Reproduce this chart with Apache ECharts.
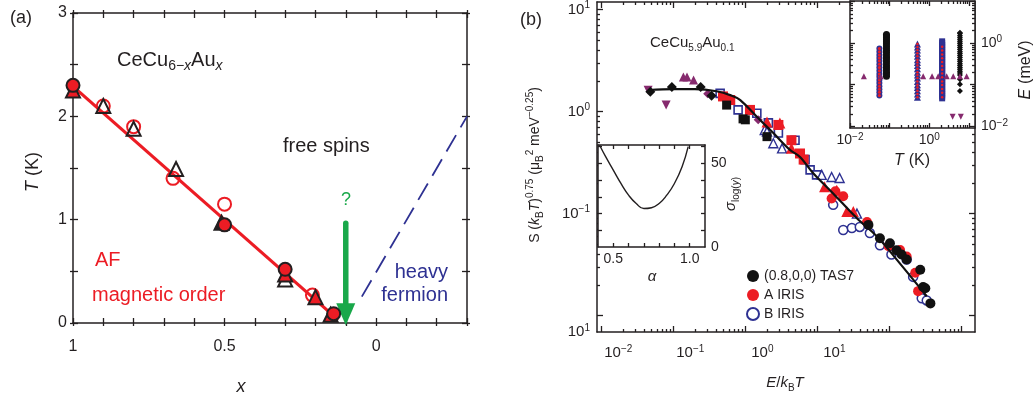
<!DOCTYPE html>
<html><head><meta charset="utf-8">
<script src="https://cdn.jsdelivr.net/npm/echarts@6/dist/echarts.min.js"></script>
<style>html,body{margin:0;padding:0;background:#fff}#c{width:1036px;height:398px}</style>
</head><body><div id="c"></div><script>
// ---------- Panel (a): T (K) vs x in CeCu6-xAux ----------
const aOpenCircles   = [[0.9,2.1],[0.8,1.9],[0.67,1.4],[0.5,1.15],[0.21,0.27]];
const aFilledCircles = [[1,2.3],[0.5,0.95],[0.3,0.52],[0.14,0.09]];
const aOpenTriangles = [[0.9,2.1],[0.8,1.88],[0.66,1.49],[0.3,0.42]];
const aRedTriangles  = [[1,2.25],[0.3,0.47],[0.2,0.25],[0.15,0.08]];
const aBlackTriangles= [[0.51,0.97]];
const aAFLine        = [[1,2.29],[0.125,0.03]];
const aArrowShaft    = [[0.1,0.965],[0.1,0.17]];
const aArrowHead     = [[0.1,0.085]];
const aHFLine        = [[0.047,0.255],[-0.3,2.0]];
const aXTicks  = [-0.3,-0.2,-0.1,0,0.1,0.2,0.3,0.4,0.5,0.6,0.7,0.8,0.9,1];
const aXLabels = [0,0.5,1];
const aYTicks  = [0,0.5,1,1.5,2,2.5,3];
const aYLabels = [0,1,2,3];

// ---------- Panel (b) main: S(kBT)^0.75 vs E/kBT ----------
const bFit = [[0.0447,1.63],[0.1,1.66],[0.2,1.66],[0.398,1.585],[0.631,1.445],[0.851,1.30],[1.445,0.891],[2.45,0.617],[4.17,0.422],[5.75,0.36],[8.71,0.251],[16.6,0.158],[35.5,0.0902],[67.6,0.0596],[141,0.0324],[331,0.0155]];
const bBlackDiamonds = [[0.0479,1.57],[0.0955,1.74],[0.24,1.74],[0.34,1.43]];
const bPurpleUp      = [[0.138,2.19],[0.155,2.19],[0.191,2.04]];
const bPurpleDown    = [[0.0447,1.62],[0.0794,1.16]];
const bPurpleDiamond = [[0.30,1.50],[1.51,0.832]];
const bBlackSquares  = [[0.55,1.16],[0.93,0.85],[1.0,0.832],[2.0,0.569]];
const bRedSquares    = [[0.49,1.41],[0.617,1.30],[1.16,1.04],[2.88,0.741],[4.37,0.525],[5.75,0.389],[6.46,0.339]];
const bBlueSquares   = [[0.447,1.51],[0.617,1.30],[0.794,1.04],[1.16,1.04],[1.445,0.964],[2.09,0.776],[2.88,0.617],[4.90,0.525],[6.76,0.339],[7.94,0.269],[9.77,0.240]];
const bBlueTriangles = [[1.86,0.661],[2.0,0.637],[2.45,0.490],[3.24,0.437],[11.5,0.240],[15.8,0.229],[20.4,0.224],[35.5,0.100]];
const bRedTriangles  = [[2.0,0.794],[3.02,0.776],[4.37,0.437],[12.6,0.184],[18.6,0.170],[25.7,0.105],[31.6,0.105]];
const bBlueCircles   = [[16.6,0.122],[22.9,0.0692],[30.2,0.0724],[38.9,0.0741],[53.7,0.0646],[74.1,0.049],[107,0.0398],[174,0.0355],[214,0.024],[282,0.0148],[331,0.0141]];
const bRedCircles    = [[15.8,0.141],[17.8,0.166],[22.9,0.148],[49,0.083],[97.7,0.0479],[141,0.044],[174,0.038],[229,0.0263],[251,0.0174]];
const bBlackCircles  = [[51.3,0.0776],[74.1,0.0575],[102,0.0513],[126,0.0437],[148,0.0398],[174,0.0355],[269,0.0282],[295,0.0191],[316,0.0186],[372,0.0132]];
const bXMajor  = [0.01,0.1,1,10,100,1000];
const bXLabels = [0.01,0.1,1,10];
const bYMajor  = [0.01,0.1,1,10];
const bYLabels = [0.1,1,10];

// ---------- Inset (b) left: sigma_log(y) vs alpha ----------
const lAlpha = [0.41,0.45,0.5,0.55,0.6,0.65,0.7,0.75,0.8,0.85,0.9,0.95,0.99];
const lSigma = [61,54,46,38,31,26,23,23.5,26,31,38,48,60];
const lXTicks = [0.5,0.6,0.7,0.8,0.9,1.0];
const lXLabels = [0.5,1.0];
const lYTicks = [10,20,30,40,50,60];
const lYLabels = [0,50];

// ---------- Inset (b) right: E (meV) vs T (K) ----------
const rCol1T = 0.055, rCol1E = [0.055,0.066,0.078,0.092,0.11,0.13,0.155,0.18,0.215,0.26,0.31,0.37,0.44,0.52,0.62,0.74];
const rCol2T = 0.083, rCol2E = [0.16,0.18,0.2,0.23,0.26,0.29,0.33,0.37,0.42,0.47,0.53,0.6,0.67,0.76,0.85,0.96,1.08,1.2,1.35,1.5,1.6];
const rCol3T = 0.5,   rCol3E = [0.05,0.06,0.072,0.086,0.1,0.12,0.145,0.17,0.2,0.24,0.29,0.34,0.4,0.48,0.57,0.68,0.8,0.95];
const rCol4T = 2.1,   rCol4E = [0.047,0.052,0.058,0.064,0.071,0.079,0.088,0.098,0.11,0.12,0.135,0.15,0.165,0.185,0.205,0.23,0.255,0.28,0.31,0.35,0.39,0.43,0.48,0.53,0.59,0.66,0.73,0.81,0.9,1.0,1.1];
const rCol4Dots = [0.05,0.064,0.079,0.098,0.12,0.15,0.185,0.23,0.28,0.35,0.43,0.53,0.66,0.81];
const rCol5T = 5.9,   rCol5E = [0.071,0.102,0.135,0.17,0.19,0.21,0.235,0.26,0.29,0.32,0.36,0.4,0.45,0.5,0.56,0.62,0.7,0.78,0.87,0.97,1.08,1.2,1.35,1.5,1.7,1.78];
const rPurpleUpT = [0.0224,0.059,0.70,1.17,1.67,2.73,4.0,5.9,8.7], rPurpleUpE = 0.16;
const rPurpleDownT = [3.86,6.2], rPurpleDownE = 0.017;
const rXMajor = [0.01,0.1,1,10];
const rXLabels = [0.01,1];
const rYMajor = [0.01,0.1,1,10];
const rYLabels = [0.01,1];

// ---------- helpers ----------
const FONT = '"Liberation Sans", Arial, Helvetica, sans-serif';
const INK = '#231f20', RED = '#ec1c24', BLUE = '#2e3192', GREEN = '#19a84a', PURPLE = '#862a6e';
function minors(majors){ const m=[]; majors.forEach(v=>{ for(let k=2;k<=9;k++) m.push(+(k*v).toPrecision(6)); }); return m; }
function pair(ts, vs){ return vs.map(v=>[ts, v]); }
function pairT(ts, v){ return ts.map(t=>[t, v]); }
const supRich = {
  b:{fontSize:15, fontFamily:FONT, color:INK, lineHeight:18},
  s:{fontSize:10, fontFamily:FONT, color:INK, verticalAlign:'top', lineHeight:12}
};
const supRichSm = {
  b:{fontSize:14, fontFamily:FONT, color:INK, lineHeight:17},
  s:{fontSize:10, fontFamily:FONT, color:INK, verticalAlign:'top', lineHeight:12}
};
function powFmt(v){ const e=Math.round(Math.log10(v)); return '{b|10}{s|'+(e<0?'\u2212'+(-e):e)+'}'; }

function ax(o){
  return {
    type:o.type||'value', gridIndex:o.grid, position:o.pos, min:o.min, max:o.max, inverse:!!o.inverse,
    logBase:10, z:o.z||1, scale:true,
    axisLine:{show:o.line!==false, onZero:false, lineStyle:{color:INK, width:o.lw||1.5}},
    axisTick:{show:!!o.ticks, inside:o.inside!==false, length:o.len||5, customValues:o.ticks, lineStyle:{color:INK, width:o.tw||1.3}},
    axisLabel:o.labels ? {show:true, customValues:o.labels, formatter:o.fmt, margin:o.margin||8, color:INK,
      fontFamily:FONT, fontSize:o.fs||16, rich:o.rich, padding:o.pad||0} : {show:false},
    splitLine:{show:false}, minorTick:{show:false}, minorSplitLine:{show:false}
  };
}
const bxMin=Math.pow(10,-2.06), bxMax=Math.pow(10,3.19), byMin=Math.pow(10,-2.16), byMax=Math.pow(10,1.075);
const rxMin=0.01, rxMax=Math.pow(10,1.15), ryMin=Math.pow(10,-2.04), ryMax=Math.pow(10,1.01);
const aFmt = v => (Math.abs(v-0.5)<1e-6 ? '0.5' : String(Math.round(v)));

const xAxis = [
  ax({grid:0,pos:'bottom',min:-0.3,max:1,inverse:true,ticks:aXTicks,len:5,labels:aXLabels,fmt:aFmt,margin:16,fs:16}),
  ax({grid:0,pos:'bottom',min:-0.3,max:1,inverse:true,ticks:aXTicks,len:3,inside:false,line:false}),
  ax({grid:0,pos:'top',min:-0.3,max:1,inverse:true,ticks:aXTicks,len:5}),
  ax({grid:0,pos:'top',min:-0.3,max:1,inverse:true,ticks:aXTicks,len:3,inside:false,line:false}),
  ax({grid:1,type:'log',pos:'bottom',min:bxMin,max:bxMax,ticks:bXMajor,len:6,labels:bXLabels,fmt:powFmt,rich:supRich,margin:12,pad:[0,0,0,34]}),
  ax({grid:1,type:'log',pos:'bottom',min:bxMin,max:bxMax,ticks:minors(bXMajor),len:3,line:false}),
  ax({grid:1,type:'log',pos:'top',min:bxMin,max:bxMax,ticks:bXMajor,len:6}),
  ax({grid:1,type:'log',pos:'top',min:bxMin,max:bxMax,ticks:minors(bXMajor),len:3,line:false}),
  ax({grid:2,type:'log',pos:'bottom',min:rxMin,max:rxMax,ticks:rXMajor,len:5,labels:rXLabels,fmt:powFmt,rich:supRichSm,margin:4,z:6}),
  ax({grid:2,type:'log',pos:'bottom',min:rxMin,max:rxMax,ticks:minors(rXMajor),len:3,line:false,z:6}),
  ax({grid:2,type:'log',pos:'top',min:rxMin,max:rxMax,ticks:rXMajor,len:5,z:6}),
  ax({grid:2,type:'log',pos:'top',min:rxMin,max:rxMax,ticks:minors(rXMajor),len:3,line:false,z:6}),
  ax({grid:3,pos:'bottom',min:0.4,max:1.1,ticks:lXTicks,len:4,labels:lXLabels,fmt:v=>v.toFixed(1),margin:5,fs:14,z:6}),
  ax({grid:3,pos:'top',min:0.4,max:1.1,ticks:lXTicks,len:4,z:6})
];
const yAxis = [
  ax({grid:0,pos:'left',min:0,max:3,ticks:aYTicks,len:5,labels:aYLabels,fmt:aFmt,margin:6,fs:16}),
  ax({grid:0,pos:'left',min:0,max:3,ticks:aYTicks,len:3,inside:false,line:false}),
  ax({grid:0,pos:'right',min:0,max:3,ticks:aYTicks,len:5}),
  ax({grid:0,pos:'right',min:0,max:3,ticks:aYTicks,len:3,inside:false,line:false}),
  ax({grid:1,type:'log',pos:'left',min:byMin,max:byMax,ticks:bYMajor,len:6,labels:bYLabels.concat([byMin*1.001]),
      fmt:v=>(v<0.009?'{b|10}{s|1}':powFmt(v)),rich:supRich,margin:7}),
  ax({grid:1,type:'log',pos:'left',min:byMin,max:byMax,ticks:minors(bYMajor),len:3,line:false}),
  ax({grid:1,type:'log',pos:'right',min:byMin,max:byMax,ticks:bYMajor,len:6}),
  ax({grid:1,type:'log',pos:'right',min:byMin,max:byMax,ticks:minors(bYMajor),len:3,line:false}),
  ax({grid:2,type:'log',pos:'left',min:ryMin,max:ryMax,ticks:rYMajor,len:5,z:6}),
  ax({grid:2,type:'log',pos:'left',min:ryMin,max:ryMax,ticks:minors(rYMajor),len:3,line:false,z:6}),
  ax({grid:2,type:'log',pos:'right',min:ryMin,max:ryMax,ticks:rYMajor,len:5,labels:rYLabels,fmt:powFmt,rich:supRichSm,margin:6,z:6}),
  ax({grid:2,type:'log',pos:'right',min:ryMin,max:ryMax,ticks:minors(rYMajor),len:3,line:false,z:6}),
  ax({grid:3,pos:'left',min:0,max:61,ticks:lYTicks,len:4,z:6}),
  ax({grid:3,pos:'right',min:0,max:61,ticks:lYTicks,len:4,labels:lYLabels,fmt:v=>String(v),margin:6,fs:14,z:6})
];

function sc(name, data, gi, sym, size, color, border, bw, z){
  return {type:'scatter', name, data, xAxisIndex:gi, yAxisIndex:gi, symbol:sym, symbolSize:size, z:z||3,
    itemStyle:{color, borderColor:border||color, borderWidth:bw||0, opacity:1}, emphasis:{disabled:true}, silent:true};
}
const CLEAR='rgba(255,255,255,0)';
const series = [
  // panel (a)
  {type:'line', data:aAFLine, xAxisIndex:0, yAxisIndex:0, symbol:'none', lineStyle:{color:RED,width:3.2}, z:2, silent:true},
  {type:'line', data:aHFLine, xAxisIndex:0, yAxisIndex:0, symbol:'none', lineStyle:{color:BLUE,width:1.8,type:[19,9]}, z:2, silent:true},
  {type:'line', data:aArrowShaft, xAxisIndex:0, yAxisIndex:0, symbol:'none', lineStyle:{color:GREEN,width:5.5,cap:'round'}, z:2, silent:true},
  {...sc('', aArrowHead, 0, 'triangle', [19,22], GREEN, GREEN, 0, 2), symbolRotate:180},
  sc('', aOpenCircles, 0, 'circle', 13, CLEAR, RED, 2),
  sc('', aOpenTriangles, 0, 'triangle', 14, CLEAR, INK, 2),
  sc('', aRedTriangles, 0, 'triangle', 14, RED, INK, 2),
  sc('', aBlackTriangles, 0, 'triangle', 14, INK, INK, 2),
  sc('', aFilledCircles, 0, 'circle', 13, RED, INK, 2),
  // panel (b) main
  sc('', bBlueSquares, 4, 'rect', 8, '#fff', BLUE, 1.6),
  sc('', bBlueTriangles, 4, 'triangle', 9, '#fff', BLUE, 1.4),
  sc('', bRedSquares, 4, 'rect', 10, RED, RED, 0),
  sc('', bRedTriangles, 4, 'triangle', 11, RED, RED, 0),
  sc('', bBlackSquares, 4, 'rect', 9, '#111', '#111', 0),
  sc('', bPurpleUp, 4, 'triangle', 9, PURPLE, PURPLE, 0),
  {...sc('', bPurpleDown, 4, 'triangle', 9, PURPLE, PURPLE, 0), symbolRotate:180},
  sc('', bPurpleDiamond, 4, 'diamond', 9, PURPLE, PURPLE, 0),
  sc('', bBlackDiamonds, 4, 'diamond', 10, '#111', '#111', 0),
  sc('B IRIS', bBlueCircles, 4, 'circle', 9, '#fff', BLUE, 1.5),
  sc('A IRIS', bRedCircles, 4, 'circle', 10, RED, RED, 0),
  sc('(0.8,0,0) TAS7', bBlackCircles, 4, 'circle', 10, '#111', '#111', 0),
  {type:'line', data:bFit, xAxisIndex:4, yAxisIndex:4, symbol:'none', smooth:0.35, lineStyle:{color:'#111',width:2.2}, z:5, silent:true},
  // inset right
  sc('', pair(rCol1T, rCol1E), 8, 'circle', 6, BLUE, BLUE, 0, 7),
  sc('', pair(rCol1T, rCol1E), 8, 'circle', 3, RED, RED, 0, 7),
  sc('', pair(rCol2T, rCol2E), 8, 'circle', 7, '#111', '#111', 0, 7),
  sc('', pair(rCol3T, rCol3E), 8, 'triangle', 7, BLUE, BLUE, 0, 7),
  sc('', pair(rCol3T, rCol3E), 8, 'circle', 2.5, RED, RED, 0, 7),
  sc('', pair(rCol4T, rCol4E), 8, 'rect', 6, BLUE, BLUE, 0, 7),
  sc('', pair(rCol4T, rCol4Dots), 8, 'circle', 2.5, RED, RED, 0, 7),
  sc('', pair(rCol5T, rCol5E), 8, 'diamond', 6, '#111', '#111', 0, 7),
  sc('', pairT(rPurpleUpT, rPurpleUpE), 8, 'triangle', 6, PURPLE, PURPLE, 0, 7),
  {...sc('', pairT(rPurpleDownT, rPurpleDownE), 8, 'triangle', 6, PURPLE, PURPLE, 0, 7), symbolRotate:180},
  // inset left
  {type:'line', data:lAlpha.map((a,i)=>[a,lSigma[i]]), xAxisIndex:12, yAxisIndex:12, symbol:'none', smooth:0.5,
   lineStyle:{color:INK,width:1.4}, z:7, silent:true, clip:true}
];

const rich = (extra)=>Object.assign({
  n:{fontSize:18, fontFamily:FONT, fill:INK},
  i:{fontSize:18, fontFamily:FONT, fill:INK, fontStyle:'italic'}
}, extra||{});
function txt(x,y,text,opt){
  opt=opt||{};
  return {type:'text', x, y, rotation:opt.rot||0, z:100, silent:true,
    style:{text, rich:opt.rich, fill:opt.color||INK, font:(opt.italic?'italic ':'')+(opt.size||18)+'px '+FONT,
      align:opt.align||'center', verticalAlign:'middle'}};
}
const graphic = [
  txt(21,18,'(a)',{size:18}),
  txt(117,60,'{n|CeCu}{s|6\u2212}{si|x}{n|Au}{si|x}',{align:'left',rich:{
     n:{fontSize:20,fontFamily:FONT,fill:INK,lineHeight:27},
     s:{fontSize:14,fontFamily:FONT,fill:INK,verticalAlign:'bottom'},
     si:{fontSize:14,fontFamily:FONT,fill:INK,verticalAlign:'bottom',fontStyle:'italic'}}}),
  txt(283,146,'free spins',{align:'left',size:20}),
  txt(346,200,'?',{color:GREEN,size:18}),
  txt(95,260,'AF',{align:'left',size:20,color:RED}),
  txt(92,295,'magnetic order',{align:'left',size:20,color:RED}),
  txt(448,272,'heavy',{align:'right',size:20,color:BLUE}),
  txt(448,295,'fermion',{align:'right',size:20,color:BLUE}),
  txt(33,172,'{i|T} {n|(K)}',{rot:Math.PI/2,rich:rich()}),
  txt(241,387,'x',{italic:true,size:18}),
  txt(531,20,'(b)',{size:18}),
  txt(650,43,'{n|CeCu}{s|5.9}{n|Au}{s|0.1}',{align:'left',rich:{
     n:{fontSize:15,fontFamily:FONT,fill:INK,lineHeight:20},
     s:{fontSize:10,fontFamily:FONT,fill:INK,verticalAlign:'bottom'}}}),
  txt(535,165,'{n|S (}{i|k}{s|B}{i|T}{n|)}{p|0.75}{n| (\u03bc}{s|B}{p|2}{n| meV}{p|\u22120.25}{n|)}',{rot:Math.PI/2,rich:{
     n:{fontSize:14,fontFamily:FONT,fill:INK,lineHeight:20},
     i:{fontSize:14,fontFamily:FONT,fill:INK,fontStyle:'italic',lineHeight:20},
     s:{fontSize:10,fontFamily:FONT,fill:INK,verticalAlign:'bottom'},
     p:{fontSize:10,fontFamily:FONT,fill:INK,verticalAlign:'top'}}}),
  txt(785,383,'{i|E}{n|/}{i|k}{s|B}{i|T}',{rich:{
     n:{fontSize:15,fontFamily:FONT,fill:INK,lineHeight:20},
     i:{fontSize:15,fontFamily:FONT,fill:INK,fontStyle:'italic',lineHeight:20},
     s:{fontSize:10,fontFamily:FONT,fill:INK,verticalAlign:'bottom'}}}),
  txt(652,277,'\u03b1',{italic:true,size:15}),
  txt(731,194,'{i|\u03c3}{s|log(}{si|y}{s|)}',{rot:Math.PI/2,rich:{
     i:{fontSize:15,fontFamily:FONT,fill:INK,fontStyle:'italic',lineHeight:20},
     s:{fontSize:10,fontFamily:FONT,fill:INK,verticalAlign:'bottom'},
     si:{fontSize:10,fontFamily:FONT,fill:INK,verticalAlign:'bottom',fontStyle:'italic'}}}),
  txt(912,161,'{i|T} {n|(K)}',{rich:rich({n:{fontSize:16,fontFamily:FONT,fill:INK},i:{fontSize:16,fontFamily:FONT,fill:INK,fontStyle:'italic'}})}),
  txt(1026,70,'{i|E} {n|(meV)}',{rot:Math.PI/2,rich:rich({n:{fontSize:16,fontFamily:FONT,fill:INK},i:{fontSize:16,fontFamily:FONT,fill:INK,fontStyle:'italic'}})})
];

const chart = echarts.init(document.getElementById('c'), null, {renderer:'canvas'});
chart.setOption({
  animation:false,
  backgroundColor:'#fff',
  grid:[
    {left:73, top:13, width:394, height:310, show:false},
    {left:597, top:2, width:378, height:330, show:false},
    {left:850, top:1, width:125, height:127, show:true, backgroundColor:'#fff', borderWidth:0, z:5},
    {left:598, top:145, width:107, height:102, show:true, backgroundColor:'#fff', borderWidth:0, z:5}
  ],
  xAxis, yAxis, series, graphic,
  legend:{show:true, orient:'vertical', left:741, top:264, itemGap:5, itemWidth:12, itemHeight:12,
    data:['(0.8,0,0) TAS7','A IRIS','B IRIS'], selectedMode:false,
    textStyle:{fontFamily:FONT, fontSize:14, color:INK}, icon:'circle', z:8}
});
</script></body></html>
